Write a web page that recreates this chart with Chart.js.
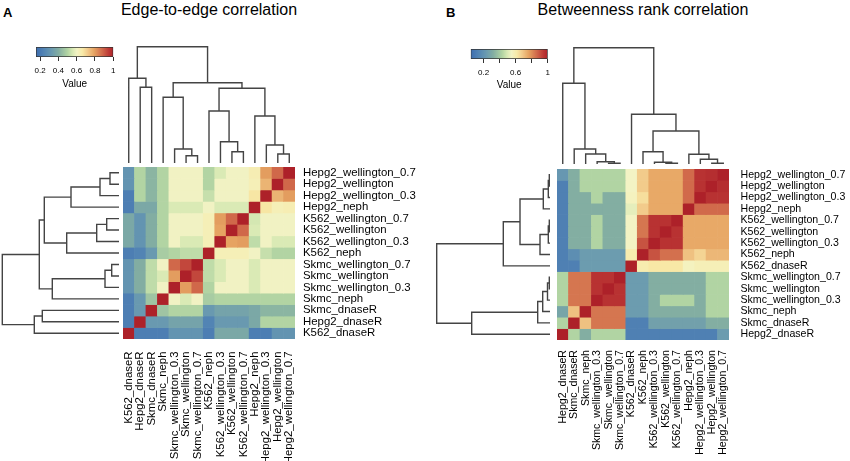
<!DOCTYPE html>
<html>
<head>
<meta charset="utf-8">
<script src="https://cdn.jsdelivr.net/npm/chart.js@4.4.1/dist/chart.umd.min.js"></script>
<style>
  body { margin: 0; background: #fff; }
  #stage { position: relative; width: 850px; height: 461px; overflow: hidden; font-family: "Liberation Sans", Arial, sans-serif; color: #000; }
  #stage canvas { position: absolute; }
  .panel { position: absolute; font-weight: bold; font-size: 13px; line-height: 15px; }
  .title { position: absolute; font-size: 16px; line-height: 18px; white-space: nowrap; transform: translateX(-50%); }
</style>
</head>
<body>
<div id="stage">
  <div class="panel" style="left:3px;top:5px">A</div>
  <div class="title" style="left:209px;top:1px">Edge-to-edge correlation</div>
  <div class="panel" style="left:446px;top:5px">B</div>
  <div class="title" style="left:643px;top:1px">Betweenness rank correlation</div>
</div>
<script>
// ---- data ----
const colsA = ['K562_dnaseR', 'Hepg2_dnaseR', 'Skmc_dnaseR', 'Skmc_neph', 'Skmc_wellington_0.3', 'Skmc_wellington', 'Skmc_wellington_0.7', 'K562_neph', 'K562_wellington_0.3', 'K562_wellington', 'K562_wellington_0.7', 'Hepg2_neph', 'Hepg2_wellington_0.3', 'Hepg2_wellington', 'Hepg2_wellington_0.7']
const rowsA = colsA.slice().reverse()

// rows top to bottom, columns left to right
const valuesA = [
  [0.30, 0.50, 0.42, 0.50, 0.60, 0.60, 0.60, 0.50, 0.56, 0.60, 0.60, 0.64, 0.80, 0.88, 1],
  [0.30, 0.50, 0.42, 0.50, 0.60, 0.60, 0.60, 0.50, 0.60, 0.60, 0.60, 0.63, 0.76, 1, 0.88],
  [0.22, 0.50, 0.42, 0.50, 0.60, 0.60, 0.60, 0.53, 0.60, 0.60, 0.60, 0.67, 1, 0.76, 0.80],
  [0.22, 0.38, 0.38, 0.50, 0.56, 0.56, 0.56, 0.60, 0.56, 0.56, 0.56, 1, 0.67, 0.63, 0.64],
  [0.38, 0.30, 0.40, 0.50, 0.60, 0.60, 0.60, 0.63, 0.80, 0.88, 1, 0.55, 0.60, 0.60, 0.60],
  [0.38, 0.30, 0.40, 0.50, 0.60, 0.60, 0.60, 0.63, 0.79, 1, 0.88, 0.56, 0.60, 0.60, 0.60],
  [0.38, 0.30, 0.40, 0.50, 0.60, 0.56, 0.56, 0.63, 1, 0.79, 0.80, 0.52, 0.60, 0.56, 0.56],
  [0.22, 0.24, 0.32, 0.48, 0.50, 0.52, 0.52, 1, 0.63, 0.63, 0.63, 0.60, 0.53, 0.50, 0.50],
  [0.30, 0.40, 0.52, 0.60, 0.88, 0.93, 1, 0.52, 0.56, 0.60, 0.60, 0.56, 0.60, 0.60, 0.60],
  [0.30, 0.40, 0.52, 0.56, 0.80, 1, 0.93, 0.52, 0.56, 0.60, 0.60, 0.56, 0.60, 0.60, 0.60],
  [0.30, 0.40, 0.52, 0.60, 1, 0.80, 0.88, 0.50, 0.60, 0.60, 0.60, 0.56, 0.60, 0.60, 0.60],
  [0.22, 0.32, 0.46, 1, 0.60, 0.56, 0.60, 0.48, 0.50, 0.50, 0.50, 0.50, 0.50, 0.50, 0.50],
  [0.22, 0.32, 1, 0.46, 0.50, 0.50, 0.50, 0.32, 0.36, 0.36, 0.36, 0.38, 0.42, 0.42, 0.42],
  [0.22, 1, 0.32, 0.32, 0.36, 0.36, 0.36, 0.24, 0.32, 0.32, 0.32, 0.38, 0.50, 0.50, 0.50],
  [1, 0.22, 0.22, 0.22, 0.30, 0.30, 0.30, 0.22, 0.38, 0.38, 0.38, 0.22, 0.22, 0.30, 0.30]
]

const colsB = ['Hepg2_dnaseR', 'Skmc_dnaseR', 'Skmc_neph', 'Skmc_wellington_0.3', 'Skmc_wellington', 'Skmc_wellington_0.7', 'K562_dnaseR', 'K562_neph', 'K562_wellington_0.3', 'K562_wellington', 'K562_wellington_0.7', 'Hepg2_neph', 'Hepg2_wellington_0.3', 'Hepg2_wellington', 'Hepg2_wellington_0.7']
const rowsB = colsB.slice().reverse()

const valuesB = [
  [0.22, 0.32, 0.43, 0.43, 0.43, 0.43, 0.55, 0.68, 0.75, 0.75, 0.75, 0.86, 0.96, 0.97, 1],
  [0.12, 0.32, 0.43, 0.43, 0.43, 0.43, 0.55, 0.68, 0.75, 0.75, 0.75, 0.86, 0.96, 1, 0.97],
  [0.12, 0.32, 0.32, 0.43, 0.32, 0.32, 0.56, 0.64, 0.75, 0.75, 0.75, 0.86, 1, 0.96, 0.96],
  [0.12, 0.32, 0.32, 0.32, 0.32, 0.32, 0.52, 0.68, 0.75, 0.75, 0.75, 1, 0.86, 0.86, 0.86],
  [0.12, 0.32, 0.32, 0.43, 0.32, 0.32, 0.55, 0.84, 0.96, 0.96, 1, 0.75, 0.75, 0.75, 0.75],
  [0.12, 0.32, 0.32, 0.43, 0.32, 0.32, 0.55, 0.84, 0.96, 1, 0.96, 0.75, 0.75, 0.75, 0.75],
  [0.12, 0.32, 0.32, 0.43, 0.32, 0.32, 0.55, 0.90, 1, 0.96, 0.96, 0.75, 0.75, 0.75, 0.75],
  [0.12, 0.18, 0.24, 0.24, 0.24, 0.24, 0.60, 1, 0.90, 0.85, 0.85, 0.70, 0.66, 0.72, 0.72],
  [0.12, 0.12, 0.24, 0.24, 0.24, 0.24, 1, 0.60, 0.62, 0.62, 0.62, 0.56, 0.58, 0.58, 0.58],
  [0.43, 0.84, 0.84, 0.96, 0.96, 1, 0.24, 0.24, 0.32, 0.32, 0.32, 0.32, 0.32, 0.43, 0.43],
  [0.43, 0.84, 0.84, 0.96, 1, 0.96, 0.24, 0.24, 0.32, 0.32, 0.32, 0.32, 0.32, 0.43, 0.43],
  [0.43, 0.84, 0.84, 1, 0.96, 0.96, 0.24, 0.24, 0.32, 0.43, 0.43, 0.43, 0.32, 0.43, 0.43],
  [0.28, 0.70, 1, 0.84, 0.84, 0.84, 0.24, 0.24, 0.32, 0.32, 0.32, 0.32, 0.32, 0.43, 0.43],
  [0.43, 1, 0.70, 0.84, 0.84, 0.84, 0.12, 0.12, 0.26, 0.26, 0.26, 0.26, 0.26, 0.32, 0.32],
  [1, 0.43, 0.32, 0.43, 0.43, 0.43, 0.12, 0.12, 0.12, 0.12, 0.12, 0.12, 0.12, 0.12, 0.24]
]

// colour key ranges and ticks
const keyRangeA = [0.156, 1]
const keyTicksA = [0.2, 0.4, 0.6, 0.8, 1]
const keyLabelsA = [0.2, 0.4, 0.6, 0.8, 1]
const keyRangeB = [0.04, 1]
const keyTicksB = [0.2, 0.4, 0.6, 0.8, 1]
const keyLabelsB = [0.2, 0.6, 1]

// dendrograms, hclust style: negative = leaf at that position, positive = earlier merge
const mergeTopA = [[-14, -15], [-13, 1], [-12, 2], [-10, -11], [-9, 4], [-8, 5], [6, 3], [-6, -7], [-5, 8], [-4, 9], [10, 7], [-2, -3], [-1, 12], [13, 11]]
const heightTopA = [9, 18, 47, 11.3, 21.3, 52, 74.7, 7.3, 14, 65.7, 80.3, 75.7, 84.7, 116.3]
const mergeLeftA = [[-1, -2], [1, -3], [2, -4], [-5, -6], [4, -7], [5, -8], [3, 6], [-9, -10], [8, -11], [9, -12], [7, 10], [-13, -14], [12, -15], [11, 13]]
const heightLeftA = [9, 19, 48, 12.3, 22.3, 52.3, 74.7, 7.3, 14, 66.7, 79.7, 76.7, 84.7, 116.7]
const mergeTopB = [[-5, -6], [-4, 1], [-3, 2], [-2, 3], [-1, 4], [-10, -11], [-9, 6], [-8, 7], [-14, -15], [-13, 9], [-12, 10], [8, 11], [-7, 12], [5, 13]]
const heightTopB = [0.7, 2.3, 10, 15, 80.7, 0.7, 1.7, 12.3, 0.7, 4.7, 9.7, 33, 49.7, 116.3]
const mergeLeftB = [[-1, -2], [1, -3], [2, -4], [-5, -6], [4, -7], [5, -8], [3, 6], [7, -9], [-10, -11], [9, -12], [10, -13], [11, -14], [12, -15], [8, 13]]
const heightLeftB = [0.7, 1.7, 6.7, 0.7, 1.7, 10, 30, 46.7, 0.7, 2.5, 7.3, 12.3, 78.3, 113.3]

// ---- styles ----
const palette = [
  [0.00, '#3d6db0'], [0.10, '#5284b4'], [0.20, '#6a9ab0'], [0.29, '#82ada2'],
  [0.41, '#b3d5a3'], [0.47, '#d6e8b3'], [0.53, '#f3f3c4'], [0.60, '#f8eaa8'],
  [0.67, '#f2c98a'], [0.75, '#e6a462'], [0.86, '#d0674a'], [0.94, '#bd3a36'], [1.00, '#ad2129']
]
const treeColor = '#444'

Chart.defaults.font.family = "'Liberation Sans', Arial, sans-serif"
Chart.defaults.color = '#000'

const stage = document.getElementById('stage')

const makeCtx = function (left, top, width, height) {
  const c = document.createElement('canvas')
  c.width = width
  c.height = height
  c.style.left = left + 'px'
  c.style.top = top + 'px'
  stage.appendChild(c)
  return c.getContext('2d')
}

const hexRgb = (h) => [1, 3, 5].map(i => parseInt(h.slice(i, i + 2), 16))

const colorFor = function (v, range) {
  const t = Math.min(1, Math.max(0, (v - range[0]) / (range[1] - range[0])))
  for (let i = 1; i < palette.length; i++) {
    if (t <= palette[i][0]) {
      const [t0, c0] = palette[i - 1], [t1, c1] = palette[i]
      const f = (t - t0) / (t1 - t0)
      const a = hexRgb(c0), b = hexRgb(c1)
      return `rgb(${a.map((x, k) => Math.round(x + (b[k] - x) * f)).join(',')})`
    }
  }
  return palette[palette.length - 1][1]
}

const zeroPad = function (axis) {
  axis.paddingLeft = axis.paddingRight = axis.paddingTop = axis.paddingBottom = 0
}

const baseOptions = {
  responsive: false,
  animation: false,
  plugins: { legend: { display: false }, tooltip: { enabled: false } }
}

const drawHeatmap = function (ctx, cols, rows, values, range, o) {
  const font = { size: o.fontSize }
  new Chart(ctx, {
    type: 'bar',
    data: {
      labels: cols,
      datasets: rows.map((name, i) => ({
        label: name,
        data: cols.map(() => [i, i + 1]),
        backgroundColor: values[i].map(v => colorFor(v, range)),
        borderWidth: 0,
        grouped: false,
        barPercentage: 1,
        categoryPercentage: 1
      }))
    },
    options: {
      ...baseOptions,
      layout: { padding: { left: 2, top: 2, right: 0, bottom: 0 } },
      scales: {
        x: {
          grid: { display: false, drawTicks: false },
          border: { display: false },
          ticks: { autoSkip: false, minRotation: 90, maxRotation: 90, padding: o.xPad, font },
          afterFit: (a) => { a.height = o.xSize; zeroPad(a) }
        },
        y: {
          position: 'right', min: 0, max: rows.length, reverse: true,
          grid: { display: false, drawTicks: false },
          border: { display: false },
          afterBuildTicks: (a) => { a.ticks = rows.map((_, i) => ({ value: i + 0.5 })) },
          ticks: { autoSkip: false, padding: o.yPad, font, callback: (v) => rows[Math.floor(v)] },
          afterFit: (a) => { a.width = o.ySize; zeroPad(a) }
        }
      }
    }
  })
}

const drawTree = function (ctx, merge, heights, leaves, vertical, pad) {
  const pos = [], hgt = []
  const node = (k) => k < 0 ? [-k - 0.5, 0] : [pos[k - 1], hgt[k - 1]]
  const datasets = merge.map(([a, b], i) => {
    const [pa, ha] = node(a), [pb, hb] = node(b), h = heights[i]
    pos[i] = (pa + pb) / 2
    hgt[i] = h
    const pts = [[pa, ha], [pa, h], [pb, h], [pb, hb]]
    return {
      data: pts.map(([p, v]) => vertical ? { x: p, y: v } : { x: v, y: p }),
      showLine: true, pointRadius: 0, borderColor: treeColor, borderWidth: 1.4, clip: false
    }
  })
  const posScale = { type: 'linear', display: false, min: 0, max: leaves }
  const hScale = { type: 'linear', display: false, min: 0, max: Math.max(...heights) }
  new Chart(ctx, {
    type: 'scatter',
    data: { datasets },
    options: {
      ...baseOptions,
      layout: { padding: pad },
      scales: vertical
        ? { x: posScale, y: hScale }
        : { x: { ...hScale, reverse: true }, y: { ...posScale, reverse: true } }
    }
  })
}

const keyGradient = function (chart) {
  const { ctx, chartArea } = chart
  if (!chartArea) return palette[6][1]
  const g = ctx.createLinearGradient(chartArea.left, 0, chartArea.right, 0)
  palette.forEach(([t, c]) => g.addColorStop(t, c))
  return g
}

const drawKey = function (ctx, range, ticks, labeled, pad, titlePad) {
  new Chart(ctx, {
    type: 'bar',
    data: {
      labels: ['Value'],
      datasets: [{
        data: [range],
        backgroundColor: (c) => keyGradient(c.chart),
        borderColor: '#333', borderWidth: 1, borderSkipped: false,
        barPercentage: 1, categoryPercentage: 1
      }]
    },
    options: {
      ...baseOptions,
      indexAxis: 'y',
      layout: { padding: pad },
      scales: {
        y: { display: false },
        x: {
          min: range[0], max: range[1],
          afterBuildTicks: (a) => { a.ticks = ticks.map(v => ({ value: v })) },
          afterFit: (a) => { a.height = 36; zeroPad(a) },
          grid: { drawOnChartArea: false, tickLength: 4, color: '#333' },
          border: { display: false },
          ticks: { autoSkip: false, maxRotation: 0, padding: 5, font: { size: 8 }, callback: (v) => labeled.includes(v) ? String(v) : '' },
          title: { display: true, text: 'Value', font: { size: 10 }, padding: { top: 0, bottom: titlePad } }
        }
      }
    }
  })
}

// ---- panel A ----
drawHeatmap(makeCtx(121, 165, 302, 296), colsA, rowsA, valuesA, keyRangeA, { xSize: 122, ySize: 128, xPad: 12.5, yPad: 8, fontSize: 11.4 })
drawTree(makeCtx(119, 42, 180, 125), mergeTopA, heightTopA, colsA.length, true, { left: 4, right: 4, top: 4.7, bottom: 4 })
drawTree(makeCtx(0, 163, 123, 180), mergeLeftA, heightLeftA, rowsA.length, false, { left: 2.3, right: 4, top: 4, bottom: 4 })
drawKey(makeCtx(26, 43, 100, 50), keyRangeA, keyTicksA, keyLabelsA, { left: 10, right: 12.7, top: 4, bottom: 0 }, 2.5)

// ---- panel B ----
drawHeatmap(makeCtx(555, 167, 295, 294), colsB, rowsB, valuesB, keyRangeB, { xSize: 121, ySize: 121, xPad: 10, yPad: 11.5, fontSize: 10.6 })
drawTree(makeCtx(553, 43, 180, 125), mergeTopB, heightTopB, colsB.length, true, { left: 4, right: 4, top: 4.7, bottom: 4 })
drawTree(makeCtx(432, 165, 122, 179), mergeLeftB, heightLeftB, rowsB.length, false, { left: 4.7, right: 4, top: 4, bottom: 4 })
drawKey(makeCtx(461, 45, 100, 50), keyRangeB, keyTicksB, keyLabelsB, { left: 9.7, right: 13.3, top: 4, bottom: 0 }, 3.5)
</script>
</body>
</html>
